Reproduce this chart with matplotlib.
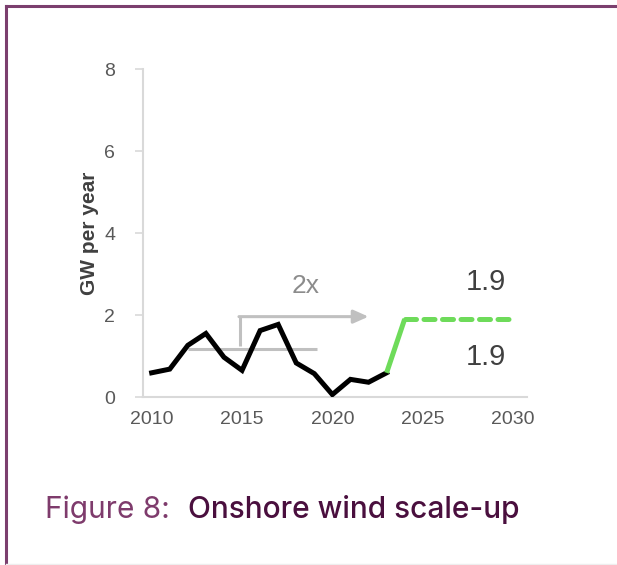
import matplotlib
matplotlib.use("Agg")
import matplotlib.pyplot as plt
from matplotlib.lines import Line2D

plt.rcParams['font.family'] = ['Liberation Sans', 'DejaVu Sans']

# historic onshore installs, GW per year
years = [2010, 2011, 2012, 2013, 2014, 2015, 2016, 2017, 2018, 2019, 2020, 2021, 2022, 2023]
installs = [0.59, 0.68, 1.26, 1.55, 0.97, 0.65, 1.62, 1.77, 0.83, 0.57, 0.06, 0.43, 0.36, 0.59]

# ramp to the target rate, then hold it
ramp_years = [2023, 2024]
ramp_values = [0.59, 1.9]
target_years = [2024, 2030]
target_values = [1.9, 1.9]

# average over 2012-2019 and the "2x" arrow
avg_years = [2012, 2019.15]
avg_values = [1.16, 1.16]
arrow_years = [2014.9, 2014.9, 2022.0]
arrow_values = [1.25, 1.96, 1.96]

ink = '#595959'
purple = '#7B3F6E'
green = '#6EDB5A'
light = '#C0C0C0'

fig = plt.figure(figsize=(6.17, 5.65), dpi=100)
ax = fig.add_axes([143 / 617, 1 - 397 / 565, 384 / 617, 328 / 565])

ax.plot(avg_years, avg_values, color=light, lw=2.2, solid_capstyle='butt', zorder=2)
ax.plot(arrow_years[:2], arrow_values[:2], color=light, lw=2.2, solid_capstyle='butt', zorder=2)
ax.annotate('', xy=(arrow_years[2], arrow_values[2]), xytext=(arrow_years[1] - 0.07, arrow_values[1]),
            arrowprops=dict(arrowstyle='-|>,head_length=0.9,head_width=0.4', color=light, lw=2.2,
                            shrinkA=0, shrinkB=0), zorder=2)

ax.plot(years, installs, color='black', lw=3.6, solid_joinstyle='miter', zorder=3)
ax.plot(ramp_years, ramp_values, color=green, lw=3.6, solid_capstyle='butt', zorder=3)
ax.plot(target_years, target_values, color=green, lw=3.6, dashes=(2.2, 1.5),
        dash_capstyle='round', zorder=3)

ax.text(2018.5, 2.7, '2x', color='#8C8C8C', fontsize=19, ha='center', va='center')
ax.text(2028.5, 2.8, '1.9', color='#404040', fontsize=21, ha='center', va='center')
ax.text(2028.5, 0.97, '1.9', color='#404040', fontsize=21, ha='center', va='center')

ax.set_xlim(2009.52, 2030.77)
ax.set_ylim(0, 8)
ax.set_xticks([2010, 2015, 2020, 2025, 2030])
ax.set_yticks([0, 2, 4, 6, 8])
ax.tick_params(axis='x', length=0, pad=10, labelsize=14, labelcolor=ink)
ax.tick_params(axis='y', length=6, width=1.2, color='#D9D9D9', pad=14, labelsize=14, labelcolor=ink)
for side in ('top', 'right'):
    ax.spines[side].set_visible(False)
for side in ('left', 'bottom'):
    ax.spines[side].set_color('#D9D9D9')
    ax.spines[side].set_linewidth(1.5)
ax.set_ylabel('GW per year', fontsize=15, fontweight='bold', color='#404040', labelpad=4)

# caption
fig.text(45 / 617, 1 - 510 / 565, 'Figure 8:', color='#7E3B6C', fontsize=21.5, family='Inter',
         va='center', ha='left')
fig.text(188 / 617, 1 - 510 / 565, 'Onshore wind scale-up', color='#4A0F3E', fontsize=21.5, family='Inter',
         fontweight='medium', va='center', ha='left')

# panel frame
fig.add_artist(Line2D([6 / 617, 1], [1 - 6 / 565, 1 - 6 / 565], color=purple, lw=2.2))
fig.add_artist(Line2D([6 / 617, 6 / 617], [0, 1 - 6 / 565], color=purple, lw=2.2))
fig.add_artist(Line2D([6 / 617, 1], [1 / 565, 1 / 565], color='#EEEEEE', lw=1))

fig.savefig('out.png', dpi=100)
